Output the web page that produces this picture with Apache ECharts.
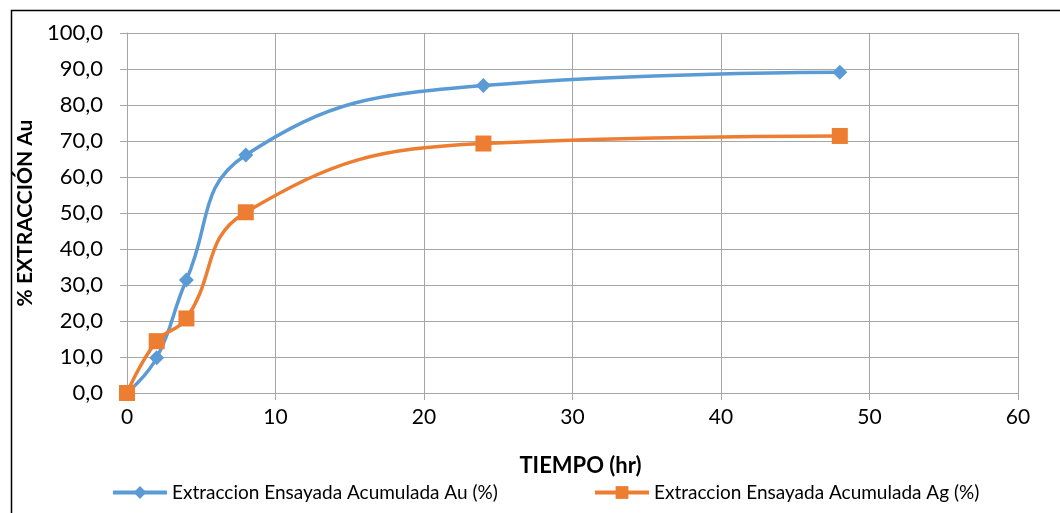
<!DOCTYPE html>
<html>
<head>
<meta charset="utf-8">
<script src="https://cdn.jsdelivr.net/npm/echarts@6/dist/echarts.min.js"></script>
<style>
  html, body { margin: 0; padding: 0; background: #fff; }
  #main { width: 1060px; height: 513px; }
</style>
</head>
<body>
<div id="main"></div>
<script>
const horas = [0, 2, 4, 8, 24, 48];
const extraccionAu = [0, 9.8, 31.4, 66.1, 85.4, 89.1];
const extraccionAg = [0, 14.4, 20.7, 50.2, 69.3, 71.4];
const nombreAu = "Extraccion Ensayada Acumulada Au (%)";
const nombreAg = "Extraccion Ensayada Acumulada Ag (%)";

const font = "Lato, 'Open Sans', sans-serif";
const gridColor = "#a6a6a6";

const pares = (ys) => horas.map((h, i) => [h, ys[i]]);

const chart = echarts.init(document.getElementById("main"));

const legendBase = {
  top: 478,
  itemWidth: 54,
  itemHeight: 16,
  itemGap: 4,
  lineStyle: { width: 4 },
  textStyle: { fontFamily: font, fontSize: 19, color: "#000" },
};

chart.setOption({
  animation: false,
  graphic: [
    {
      type: "rect",
      left: 9,
      top: 8,
      shape: { width: 1100, height: 600 },
      style: { fill: "none", stroke: "#000", lineWidth: 1.5 },
      silent: true,
    },
  ],
  grid: { left: 127, right: 42, top: 33, bottom: 120 },
  legend: [
    Object.assign({ left: 106, data: [nombreAu] }, legendBase),
    Object.assign({ left: 588, data: [nombreAg] }, legendBase),
  ],
  xAxis: {
    type: "value",
    min: 0,
    max: 60,
    interval: 10,
    name: "TIEMPO (hr)",
    nameLocation: "middle",
    nameGap: 62,
    nameTextStyle: { fontFamily: font, fontSize: 22, fontWeight: "bold", color: "#000", padding: [0, 0, 0, 16] },
    axisLine: { show: true, lineStyle: { color: gridColor } },
    axisTick: { show: true, length: 7, inside: false, lineStyle: { color: gridColor } },
    splitLine: { show: true, lineStyle: { color: gridColor, width: 1 } },
    axisLabel: { fontFamily: font, fontSize: 21, color: "#000", margin: 14 },
  },
  yAxis: {
    type: "value",
    min: 0,
    max: 100,
    interval: 10,
    name: "% EXTRACCIÓN Au",
    nameLocation: "middle",
    nameGap: 84,
    nameRotate: 90,
    nameTextStyle: { fontFamily: font, fontSize: 21, fontWeight: "bold", color: "#000" },
    axisLine: { show: true, lineStyle: { color: gridColor } },
    axisTick: { show: true, length: 7, lineStyle: { color: gridColor } },
    splitLine: { show: true, lineStyle: { color: gridColor, width: 1 } },
    axisLabel: {
      fontFamily: font,
      fontSize: 22,
      color: "#000",
      margin: 24,
      formatter: (v) => v.toFixed(1).replace(".", ","),
    },
  },
  series: [
    {
      name: nombreAu,
      type: "line",
      smooth: 0.45,
      data: pares(extraccionAu),
      symbol: "diamond",
      symbolSize: 15,
      lineStyle: { width: 3.5, color: "#5b9bd5" },
      itemStyle: { color: "#5b9bd5" },
      z: 3,
    },
    {
      name: nombreAg,
      type: "line",
      smooth: 0.45,
      data: pares(extraccionAg),
      symbol: "rect",
      symbolSize: 16,
      lineStyle: { width: 3.5, color: "#ed7d31" },
      itemStyle: { color: "#ed7d31" },
      z: 4,
    },
  ],
});
</script>
</body>
</html>
